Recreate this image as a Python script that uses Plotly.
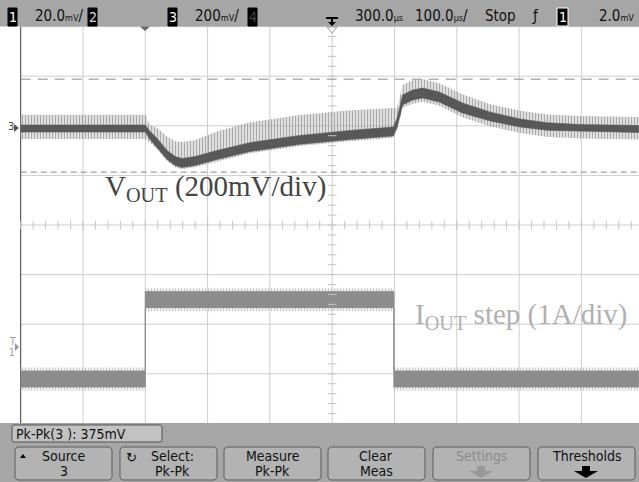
import plotly.graph_objects as go

W, H = 639, 482

# ---------------- data ----------------
# horizontal: 100 us/div, trigger at t = 0, screen centre = 300 us
# Vout (channel 3, 200 mV/div): deviation from the regulated level, mV
vout_t      = [-200, -100, 0, 7, 19, 35, 48, 59, 80, 115, 168, 248, 329, 398,
               404, 413, 429, 445, 472, 509, 554, 602, 645, 698, 792]
vout_mv     = [0, 0, 0, -26, -58, -107, -131, -139, -131, -107, -75, -46, -26, -12,
               22, 115, 135, 143, 127, 83, 48, 22, 8, 2, -2]
vout_core   = [14, 14, 14, 16, 18, 18, 18, 18, 18, 18, 18, 18, 18, 18,
               18, 20, 20, 20, 20, 20, 18, 16, 15, 14, 14]
vout_spk_up = [55, 55, 55, 40, 60, 75, 80, 85, 85, 95, 100, 100, 100, 95,
               60, 60, 60, 57, 55, 55, 50, 50, 48, 48, 48]
vout_spk_dn = [42, 42, 42, 30, 25, 25, 25, 25, 25, 25, 25, 25, 25, 25,
               30, 32, 35, 35, 35, 38, 40, 40, 42, 42, 42]

# Iout (channel 1, shown at 1 A/div): load current step, A above the light-load level
iout_t      = [-200, 0, 0, 399, 399, 792]
iout_a      = [0.0, 0.0, 1.6, 1.6, 0.0, 0.0]
iout_core   = 0.16
iout_spike  = 0.23

# measurement cursors (Pk-Pk of channel 3 = 375 mV)
cursor_mv = [199, -176]

# ---------------- screen geometry ----------------
X0PX, DIVPX = 20.7, 62.3       # left graticule edge, px per division (x)
YC, DIVPY = 225.0, 49.6        # centre line, px per division (y)
VOUT_OFF = (YC - 128.5) / DIVPY  # channel 3 position in divisions
IOUT_OFF = -(379 - YC) / DIVPY   # channel 1 position in divisions
xmin = -200 - X0PX / DIVPX * 100
xmax = -200 + (W - X0PX) / DIVPX * 100
ymin = -(H - YC) / DIVPY
ymax = YC / DIVPY


def vdiv(mv):
    return VOUT_OFF + mv / 200.0


def idiv(a):
    return IOUT_OFF + a


def band(t, lo, hi):
    return list(t) + list(t[::-1]), list(hi) + list(lo[::-1])


def PX(x):
    return x / W


def PY(y):
    return 1 - y / H


fig = go.Figure()

# ---- Vout: spike envelope + dense core ----
hi = [vdiv(m + u) for m, u in zip(vout_mv, vout_spk_up)]
lo = [vdiv(m - d) for m, d in zip(vout_mv, vout_spk_dn)]
bx, by = band(vout_t, lo, hi)
fig.add_trace(go.Scatter(x=bx, y=by, fill='toself', mode='lines', line=dict(width=0),
                         fillcolor='rgba(150,150,150,0.35)',
                         fillpattern=dict(shape='|', size=3, solidity=0.45,
                                          fgcolor='#6e6e6e', bgcolor='rgba(190,190,190,0.35)'),
                         hoverinfo='skip'))
hi = [vdiv(m + c) for m, c in zip(vout_mv, vout_core)]
lo = [vdiv(m - c) for m, c in zip(vout_mv, vout_core)]
bx, by = band(vout_t, lo, hi)
fig.add_trace(go.Scatter(x=bx, y=by, fill='toself', mode='lines', line=dict(width=0.6, color='#585858'),
                         fillcolor='#585858', hoverinfo='skip'))

# ---- Iout ----
hi = [idiv(a + iout_spike) for a in iout_a]
lo = [idiv(a - iout_spike) for a in iout_a]
bx, by = band(iout_t, lo, hi)
fig.add_trace(go.Scatter(x=bx, y=by, fill='toself', mode='lines', line=dict(width=0),
                         fillcolor='rgba(170,170,170,0.3)',
                         fillpattern=dict(shape='|', size=3, solidity=0.35,
                                          fgcolor='#9a9a9a', bgcolor='rgba(215,215,215,0.3)'),
                         hoverinfo='skip'))
hi = [idiv(a + iout_core) for a in iout_a]
lo = [idiv(a - iout_core) for a in iout_a]
bx, by = band(iout_t, lo, hi)
fig.add_trace(go.Scatter(x=bx, y=by, fill='toself', mode='lines', line=dict(width=1, color='#8c8c8c'),
                         fillcolor='#8c8c8c', hoverinfo='skip'))

# ---- centre-axis minor ticks ----
tx = [-200 + 20 * k for k in range(0, 50)]
fig.add_trace(go.Scatter(x=tx, y=[0] * len(tx), mode='markers', hoverinfo='skip',
                         marker=dict(symbol='line-ns', size=6, line=dict(width=1, color='#c4c4c4'))))
ty = [-4 + 0.2 * k for k in range(0, 41)]
fig.add_trace(go.Scatter(x=[300] * len(ty), y=ty, mode='markers', hoverinfo='skip',
                         marker=dict(symbol='line-ew', size=6, line=dict(width=1, color='#c4c4c4'))))

shapes = []
# graticule
for k in range(1, 10):
    shapes.append(dict(type='line', xref='x', yref='y', x0=-200 + 100 * k, x1=-200 + 100 * k,
                       y0=-4, y1=4, line=dict(color='#cdcdcd', width=1), layer='below'))
for k in range(-4, 5):
    shapes.append(dict(type='line', xref='x', yref='y', x0=-200, x1=xmax, y0=k, y1=k,
                       line=dict(color='#cdcdcd', width=1), layer='below'))
shapes.append(dict(type='line', xref='x', yref='y', x0=-200, x1=-200, y0=-4, y1=4,
                   line=dict(color='#3a3a3a', width=1), layer='below'))
# cursors
shapes.append(dict(type='line', xref='x', yref='y', x0=-200, x1=xmax, y0=vdiv(cursor_mv[0]), y1=vdiv(cursor_mv[0]),
                   line=dict(color='#8a8a8a', width=1, dash='10px,7px'), layer='below'))
shapes.append(dict(type='line', xref='x', yref='y', x0=-200, x1=xmax, y0=vdiv(cursor_mv[1]), y1=vdiv(cursor_mv[1]),
                   line=dict(color='#8a8a8a', width=1, dash='6px,4px'), layer='below'))

BAR = '#a6a6a6'
# top & bottom bars
shapes.append(dict(type='rect', xref='paper', yref='paper', x0=0, x1=1, y0=PY(26.5), y1=1,
                   fillcolor=BAR, line=dict(width=0), layer='above'))
shapes.append(dict(type='rect', xref='paper', yref='paper', x0=0, x1=1, y0=0, y1=PY(423),
                   fillcolor=BAR, line=dict(width=0), layer='above'))


def P(x, y):
    return f"{PX(x):.5f},{PY(y):.5f}"


def rrect(x0, y0, x1, y1, r):
    return (f"M{P(x0 + r, y0)} L{P(x1 - r, y0)} Q{P(x1, y0)} {P(x1, y0 + r)} "
            f"L{P(x1, y1 - r)} Q{P(x1, y1)} {P(x1 - r, y1)} L{P(x0 + r, y1)} "
            f"Q{P(x0, y1)} {P(x0, y1 - r)} L{P(x0, y0 + r)} Q{P(x0, y0)} {P(x0 + r, y0)} Z")


def poly(pts):
    return "M" + " L".join(P(x, y) for x, y in pts) + " Z"


# Pk-Pk readout box
shapes.append(dict(type='path', xref='paper', yref='paper', path=rrect(12, 425, 162, 442, 2),
                   fillcolor='#c2c2c2', line=dict(color='#555555', width=1), layer='above'))

btn_x = [15, 120, 224, 328, 433, 538]
btn_top = ['Source', 'Select:', 'Measure', 'Clear', 'Settings', 'Thresholds']
btn_bot = ['3', 'Pk-Pk', 'Pk-Pk', 'Meas', '', '']
for x in btn_x:
    shapes.append(dict(type='path', xref='paper', yref='paper', path=rrect(x, 447, x + 97, 480, 4),
                       fillcolor='#b3b3b3', line=dict(color='#5c5c5c', width=1), layer='above'))


def down_arrow(cx, top, bot, col):
    return dict(type='path', xref='paper', yref='paper', layer='above',
                path=poly([(cx - 4, top), (cx + 4, top), (cx + 4, top + 5), (cx + 12, top + 5),
                           (cx, bot), (cx - 12, top + 5), (cx - 4, top + 5)]),
                fillcolor=col, line=dict(width=0))


shapes.append(down_arrow(481, 466, 478, '#999999'))
shapes.append(down_arrow(586, 466, 478, '#000000'))
shapes.append(dict(type='path', xref='paper', yref='paper', layer='above',
                   path=poly([(20, 458), (26, 458), (23, 454)]), fillcolor='#000', line=dict(width=0)))


def badge(x0, x1, fill, border):
    return dict(type='rect', xref='paper', yref='paper', x0=PX(x0), x1=PX(x1), y0=PY(26), y1=PY(8),
                fillcolor=fill, line=dict(color=border, width=1), layer='above')


shapes += [badge(8, 17, '#000', '#000'), badge(88, 97, '#000', '#000'),
           badge(168, 177, '#000', '#000'), badge(248, 257, '#000', '#000'),
           badge(557, 568, '#000', '#ffffff')]

# trigger / reference markers
shapes.append(dict(type='path', xref='paper', yref='paper', layer='above',
                   path=poly([(140, 26.5), (150, 26.5), (145, 31)]), fillcolor='#666', line=dict(width=0)))
shapes.append(dict(type='path', xref='paper', yref='paper', layer='above',
                   path=poly([(327, 27), (337, 27), (332, 33)]), fillcolor='white', line=dict(color='#9a9a9a', width=1)))
shapes.append(dict(type='line', xref='paper', yref='paper', x0=PX(326), x1=PX(338), y0=PY(18), y1=PY(18),
                   line=dict(color='#000', width=2), layer='above'))
shapes.append(dict(type='path', xref='paper', yref='paper', layer='above',
                   path=poly([(331, 18), (333, 18), (333, 22), (336, 22), (332, 26), (328, 22), (331, 22)]),
                   fillcolor='#000', line=dict(width=0)))
shapes.append(dict(type='path', xref='paper', yref='paper', layer='above',
                   path=poly([(14, 124), (19, 128), (14, 132)]), fillcolor='#555', line=dict(width=0)))
shapes.append(dict(type='path', xref='paper', yref='paper', layer='above',
                   path=poly([(15, 343), (19, 347), (15, 351)]), fillcolor='#999', line=dict(width=0)))

NARROW = "Liberation Sans Narrow, DejaVu Sans Condensed, Arial Narrow, sans-serif"
anns = []


def txt(x, y, s, size=15, color='#111', xanchor='left', family=NARROW):
    anns.append(dict(xref='paper', yref='paper', x=PX(x), y=PY(y), text=s, showarrow=False,
                     xanchor=xanchor, yanchor='middle', font=dict(family=family, size=size, color=color)))


SM = "<span style='font-size:9px'>%s</span>"
# top bar texts
txt(12.5, 17, '1', 14, 'white', 'center')
txt(33, 16, '20.0' + SM % 'mV' + '/', 15)
txt(92.5, 17, '2', 14, '#dddddd', 'center')
txt(172.5, 17, '3', 14, 'white', 'center')
txt(193, 16, '200' + SM % 'mV' + '/', 15)
txt(252.5, 17, '4', 14, '#444444', 'center')
txt(353, 16, '300.0' + SM % 'µs', 15)
txt(413, 16, '100.0' + SM % 'µs' + '/', 15)
txt(483, 16, 'Stop', 15)
txt(535, 16, 'ƒ', 15, '#111', 'center')
txt(562.5, 17, '1', 14, 'white', 'center')
txt(597, 16, '2.0' + SM % 'mV', 15)

# bottom texts
txt(14, 433.5, 'Pk-Pk(3 ): 375mV', 14)
for x, a, b in zip(btn_x, btn_top, btn_bot):
    col = '#8c8c8c' if a == 'Settings' else '#111'
    cx = x + 48.5 + (4 if a == 'Select:' else 0)
    txt(cx, 456, a, 14, col, 'center')
    if b:
        txt(cx, 471, b, 14, col, 'center')
txt(131, 457, '↻', 13, '#111', 'center', 'DejaVu Sans')

# left markers
txt(6, 127, '3', 11, '#444')
txt(7, 341, 'T', 10, '#999')
txt(7, 352, '1', 10, '#999')

# trace labels
SERIF = "Liberation Serif, Times New Roman, serif"
anns.append(dict(xref='paper', yref='paper', x=PX(103), y=PY(188), text='V<sub>OUT</sub> (200mV/div)',
                 showarrow=False, xanchor='left', yanchor='middle',
                 font=dict(family=SERIF, size=29, color='#454545')))
anns.append(dict(xref='paper', yref='paper', x=PX(413), y=PY(316), text='I<sub>OUT</sub> step (1A/div)',
                 showarrow=False, xanchor='left', yanchor='middle',
                 font=dict(family=SERIF, size=29, color='#b0b0b0')))

fig.update_layout(width=W, height=H, margin=dict(l=0, r=0, t=0, b=0),
                  paper_bgcolor='white', plot_bgcolor='white', showlegend=False,
                  xaxis=dict(range=[xmin, xmax], visible=False, fixedrange=True),
                  yaxis=dict(range=[ymin, ymax], visible=False, fixedrange=True),
                  shapes=shapes, annotations=anns)
fig.write_html("out.html", config={'displayModeBar': False},
               post_script="document.body.style.margin='0';document.body.style.overflow='hidden';")
